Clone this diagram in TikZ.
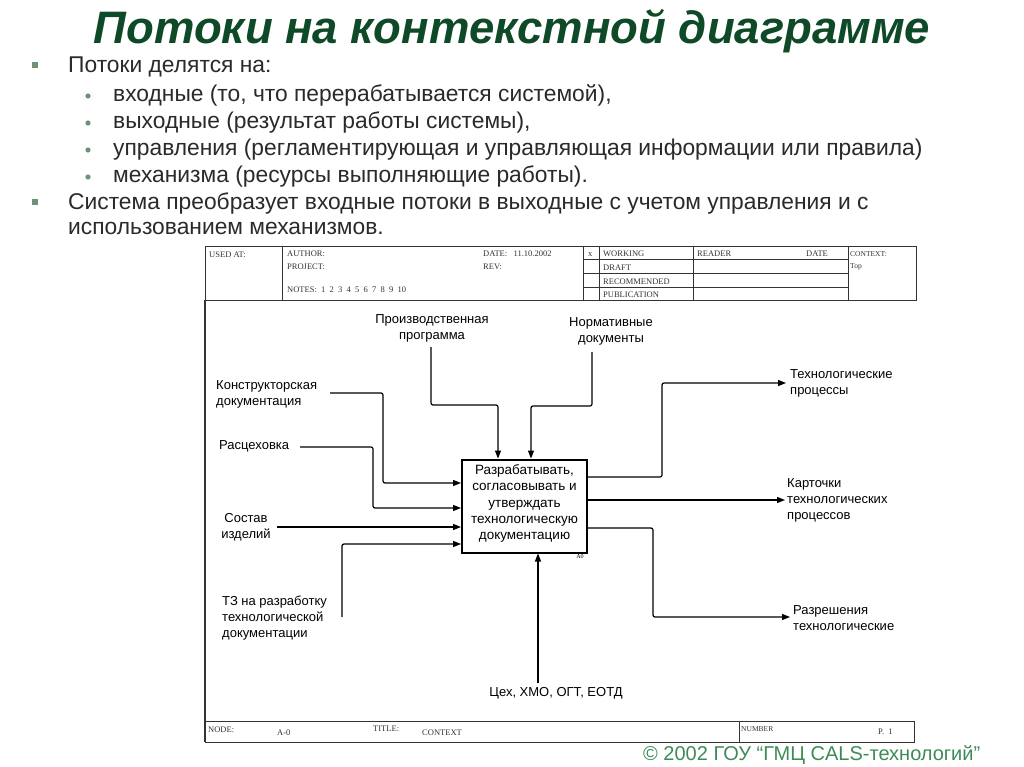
\documentclass[tikz,border=0pt]{standalone}
\usepackage{fontspec}
\setmainfont{Liberation Sans}
\newfontfamily\tms{Liberation Serif}
\usetikzlibrary{arrows.meta}
\definecolor{titlegreen}{HTML}{0F4A28}
\definecolor{bodytext}{HTML}{2A2A2A}
\definecolor{bulletgreen}{HTML}{6F9276}
\definecolor{copygreen}{HTML}{3E8B57}
\definecolor{framegray}{HTML}{333333}
\tikzset{
  flow/.style={line width=1.2pt, rounded corners=2pt, -{Triangle[length=8pt,width=6pt]}},
  lbl/.style={font=\fontsize{13}{16}\selectfont, align=left, inner sep=0pt},
  lblc/.style={font=\fontsize{13}{16}\selectfont, align=center, inner sep=0pt},
  hdr/.style={font=\tms\fontsize{8.5}{10}\selectfont, text=framegray, inner sep=0pt, anchor=base west},
  btxt/.style={font=\fontsize{22.8}{26}\selectfont, text=bodytext, inner sep=0pt, anchor=base west},
  hline/.style={line width=0.8pt, draw=framegray},
}
\begin{document}
\begin{tikzpicture}[x=1pt,y=-1pt]
\useasboundingbox[fill=white] (0,0) rectangle (1024,767);

% title
\node[font=\fontsize{45.5}{50}\selectfont\bfseries\itshape, text=titlegreen, inner sep=0pt] (title) at (512,31) {Потоки на контекстной диаграмме};

% bullets
\fill[bulletgreen] (32,62) rectangle (38,68);
\node[btxt] (b1) at (68,73) {Потоки делятся на:};
\foreach \yy/\tt [count=\i] in {102/{входные (то, что перерабатывается системой),},129/{выходные (результат работы системы),},156/{управления (регламентирующая и управляющая информации или правила)},183/{механизма (ресурсы выполняющие работы).}}{
  \fill[bulletgreen] (88,\yy-6) circle (2.6);
  \node[btxt] (sb\i) at (113,\yy) {\tt};
}
\fill[bulletgreen] (32,199) rectangle (38,205);
\node[btxt] (b2) at (68,210) {Система преобразует входные потоки в выходные с учетом управления и с};
\node[btxt] (b3) at (68,234) {использованием механизмов.};

% IDEF0 frame header
\draw[hline] (205,246) rectangle (916,300);
\foreach \xx in {282,583,599,693,848}{\draw[hline] (\xx,246) -- (\xx,300);}
\foreach \yy in {259,273,287}{\draw[hline] (583,\yy) -- (848,\yy);}
\draw[line width=1.8pt, draw=framegray] (205,300) -- (205,742);
\draw[hline] (205,721) rectangle (914,742);
\draw[hline] (739,721) -- (739,742);

\node[hdr] (usedat) at (209,258) {USED AT:};
\node[hdr] (author) at (287,256) {AUTHOR:};
\node[hdr] (project) at (287,269) {PROJECT:};
\node[hdr] (notes) at (287,292) {NOTES:\ \ 1\ \ 2\ \ 3\ \ 4\ \ 5\ \ 6\ \ 7\ \ 8\ \ 9\ \ 10};
\node[hdr] (date) at (483,256) {DATE:\ \ \ 11.10.2002};
\node[hdr] (rev) at (483,269) {REV:};
\node[hdr] (xmark) at (588,256) {x};
\node[hdr] (working) at (603,256) {WORKING};
\node[hdr] (draft) at (603,270) {DRAFT};
\node[hdr] (recom) at (603,284) {RECOMMENDED};
\node[hdr] (publ) at (603,297) {PUBLICATION};
\node[hdr] (reader) at (697,256) {READER};
\node[hdr] (rdate) at (806,256) {DATE};
\node[hdr, font=\tms\fontsize{7.5}{9}\selectfont] (context) at (850,256) {CONTEXT:};
\node[hdr, font=\tms\fontsize{7.5}{9}\selectfont] (top) at (850,268) {Top};

% footer
\node[hdr] (nodel) at (208,732) {NODE:};
\node[hdr] (nodev) at (277,735) {A-0};
\node[hdr] (titlel) at (373,731) {TITLE:};
\node[hdr] (titlev) at (422,735) {CONTEXT};
\node[hdr, font=\tms\fontsize{7.5}{9}\selectfont] (numl) at (741,731) {NUMBER};
\node[hdr] (numv) at (878,734) {P.\ \ 1};

% main activity box
\node[draw, line width=2pt, minimum width=125pt, minimum height=93pt, inner sep=0pt] (box) at (524.5,506) {};
\node[lblc, font=\fontsize{13.5}{16.2}\selectfont] (boxtext) at (524.5,503.5) {Разрабатывать,\\согласовывать и\\утверждать\\технологическую\\документацию};
\node[font=\tms\fontsize{6}{7}\selectfont, inner sep=0pt] (a0) at (580,557) {A0};

% labels
\node[lbl, anchor=west] (kd) at (216,394) {Конструкторская\\документация};
\node[lbl, anchor=west] (rc) at (219,446) {Расцеховка};
\node[lblc] (si) at (246,527) {Состав\\изделий};
\node[lbl, anchor=west] (tz) at (222,618) {ТЗ на разработку\\технологической\\документации};
\node[lblc] (pp) at (432,328) {Производственная\\программа};
\node[lblc] (nd) at (611,331) {Нормативные\\документы};
\node[lbl, anchor=west] (tp) at (790,383) {Технологические\\процессы};
\node[lbl, anchor=west] (kt) at (787,500) {Карточки\\технологических\\процессов};
\node[lbl, anchor=west] (rt) at (793,618) {Разрешения\\технологические};
\node[lblc] (mech) at (556,693) {Цех, ХМО, ОГТ, ЕОТД};

% connector coordinates
\coordinate (kdS) at (330,393);
\coordinate (kdC) at (383,483);
\coordinate (rcS) at (300,447);
\coordinate (rcC) at (373,508);
\coordinate (siS) at (277,527);
\coordinate (tzS) at (342,617);
\coordinate (tzC) at (342,544);
\coordinate (ppS) at (431,347);
\coordinate (ppC) at (498,405);
\coordinate (ndS) at (592,352);
\coordinate (ndC) at (531,406);
\coordinate (tpC) at (662,477);
\coordinate (tpE) at (786,383);
\coordinate (ktE) at (785,500);
\coordinate (rtC) at (653,528);
\coordinate (rtE) at (790,617);
\coordinate (mechS) at (538,683);

% inputs
\draw[flow] (kdS) -| (kdC) -- (kdC -| box.west);
\draw[flow] (rcS) -| (rcC) -- (rcC -| box.west);
\draw[flow] (siS) -- (siS -| box.west);
\draw[flow] (tzS) -- (tzC) -- (tzC -| box.west);
% controls
\draw[flow] (ppS) |- (ppC) -- (ppC |- box.north);
\draw[flow] (ndS) |- (ndC) -- (ndC |- box.north);
% outputs
\draw[flow] (tpC -| box.east) -- (tpC) |- (tpE);
\draw[flow] (ktE -| box.east) -- (ktE);
\draw[flow] (rtC -| box.east) -- (rtC) |- (rtE);
% mechanism
\draw[flow] (mechS) -- (mechS |- box.south);

% copyright
\node[font=\fontsize{20}{24}\selectfont, text=copygreen, inner sep=0pt, anchor=base west] (copy) at (643,760) {© 2002 ГОУ “ГМЦ CALS-технологий”};
\end{tikzpicture}
\end{document}
